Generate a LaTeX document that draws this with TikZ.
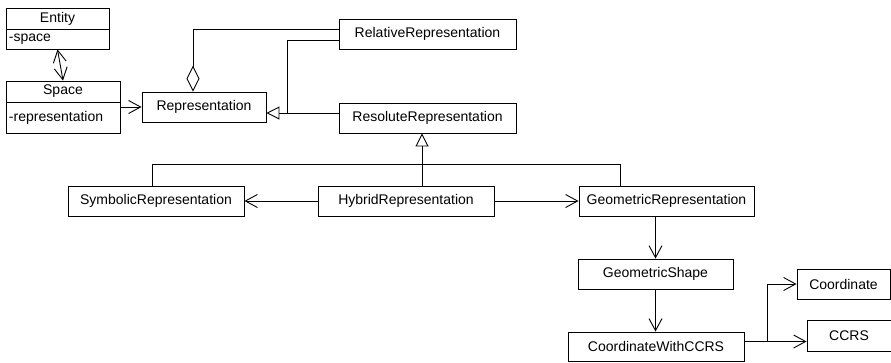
\documentclass[tikz,border=0pt]{standalone}
\usepackage{fontspec}
\setmainfont{Liberation Sans}
\usetikzlibrary{arrows.meta}

\begin{document}
\begin{tikzpicture}[x=1pt, y=-1pt, line width=0.9pt, font=\fontsize{14}{16}\selectfont,
    cls/.style={draw, minimum height=30, inner sep=0pt},
    attrbox/.style={draw, align=left, inner xsep=3pt, inner ysep=0pt},
    assoc/.style={-{Straight Barb[length=12pt,width=13pt]}},
    biassoc/.style={{Straight Barb[length=12pt,width=13pt]}-{Straight Barb[length=12pt,width=13pt]}},
    inherit/.style={-{Triangle[open,length=13pt,width=13pt]}},
    aggr/.style={-{Diamond[open,length=26pt,width=13pt]}}]

      % Picture frame
      \useasboundingbox (0,0) rectangle (891,362);

      % Entity and Space classes
      \node[cls, minimum width=103, minimum height=21] (entity) at (57.5,18.5) {Entity};
      \node[attrbox, text width=97pt, minimum height=20] (entityattr) at (57.5,39) {-space};
      \node[cls, minimum width=114, minimum height=21] (space) at (63,91.5) {Space};
      \node[attrbox, text width=108pt, minimum height=31] (spaceattr) at (63,117.5) {-representation};

      % Representations
      \node[cls, minimum width=124] (repr) at (204,107) {Representation};
      \node[cls, minimum width=177] (relrep) at (427.5,34) {RelativeRepresentation};
      \node[cls, minimum width=177] (resrep) at (427.5,118) {ResoluteRepresentation};

      % Resolute kinds
      \node[cls, minimum width=176] (symb) at (156,201) {SymbolicRepresentation};
      \node[cls, minimum width=176] (hybrid) at (406,201) {HybridRepresentation};
      \node[cls, minimum width=175] (geom) at (666.5,201) {GeometricRepresentation};

      % Geometry
      \node[cls, minimum width=155] (gshape) at (655.5,274) {GeometricShape};
      \node[cls, minimum width=176, minimum height=29] (cwc) at (656,346.5) {CoordinateWithCCRS};
      \node[cls, minimum width=93] (coord) at (843.5,284) {Coordinate};
      \node[cls, minimum width=84, minimum height=31] (ccrs) at (849,335.5) {CCRS};

      % Helper points
      \coordinate (join) at (287,113);
      \coordinate (fork) at (767,342);

      % Associations
      \draw[biassoc] (entityattr.south) -- (space.north);
      \draw[assoc] (repr.west -| spaceattr.east) -- (repr.west);
      \draw[aggr] ([yshift=5pt]relrep.west) -| ([xshift=-11pt]repr.north);
      \draw[assoc] (hybrid) -- (symb);
      \draw[assoc] (hybrid) -- (geom);
      \draw[assoc] (geom.south -| gshape.north) -- (gshape.north);
      \draw[assoc] (gshape.south) -- (cwc.north -| gshape.south);
      \draw[assoc] ([yshift=5pt]cwc.east) -- ([yshift=5pt]cwc.east -| ccrs.west);
      \draw[assoc] (fork) |- (coord.west);

      % Inheritance
      \draw ([yshift=-6pt]relrep.west) -| (join);
      \draw[inherit] ([yshift=5pt]resrep.west) -- ([yshift=-6pt]repr.east);
      \draw[inherit] ([xshift=16pt]hybrid.north) -- ([xshift=16pt]hybrid.north |- resrep.south);
      \draw ([xshift=-4pt]symb.north) -- ++(0,-21) -| ([xshift=-46pt]geom.north);

    \end{tikzpicture}
\end{document}
